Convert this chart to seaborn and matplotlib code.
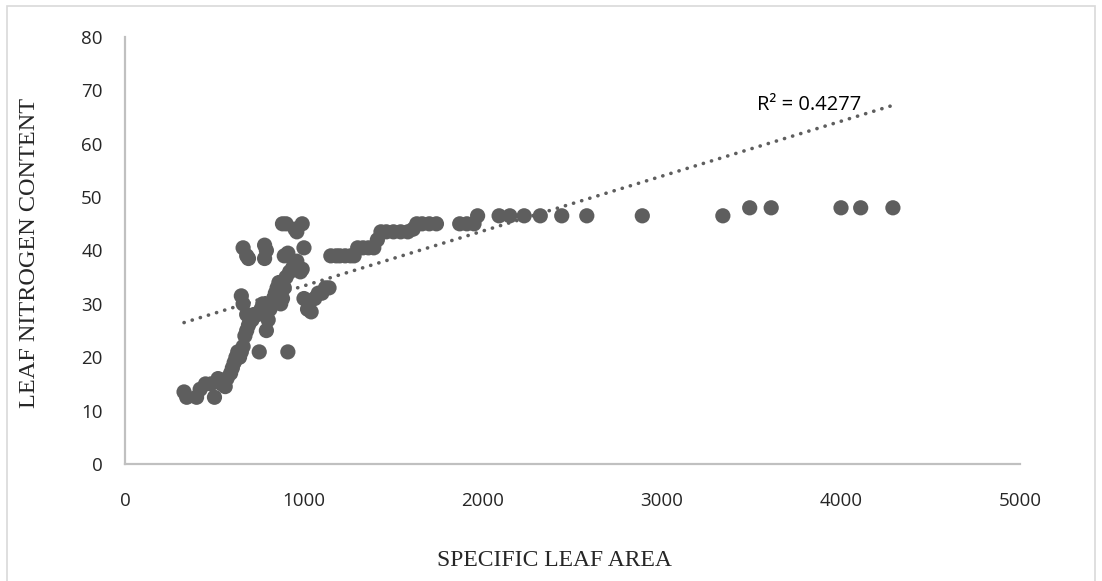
import matplotlib
matplotlib.use("Agg")
import matplotlib.pyplot as plt
import numpy as np
import pandas as pd
import seaborn as sns
from matplotlib.patches import Rectangle

# specific leaf area (x) and leaf nitrogen content (y)
sla = [330, 345, 400, 420, 450, 480, 500, 520, 540, 560, 570, 590, 600, 610, 620,
       630, 640, 650, 660, 670, 680, 690, 700, 710, 720, 740, 750, 760, 770, 780,
       790, 800, 810, 820, 830, 840, 850, 860, 870, 880, 890, 900, 910, 920, 940,
       960, 980, 1000, 1020, 1040, 1060, 1080, 1100, 1120, 1140,
       660, 680, 690, 780, 790, 780, 880, 900, 890, 910, 950, 990, 1000, 960, 950,
       990, 650, 660, 680,
       1150, 1180, 1200, 1230, 1260, 1280, 1300, 1330, 1360, 1390, 1410, 1430,
       1460, 1500, 1540, 1580, 1610, 1630, 1660, 1700, 1740, 1870, 1910, 1950,
       1970, 2090, 2150, 2230, 2320, 2440, 2580, 2890, 3340, 3490, 3610, 4000,
       4110, 4290]
lnc = [13.5, 12.5, 12.5, 14, 15, 15, 12.5, 16, 15, 14.5, 16, 17, 18, 19, 20,
       21, 20, 21, 22, 24, 25, 26, 27, 27, 28, 28, 21, 29, 30, 28,
       25, 27, 29, 30, 31, 32, 33, 34, 30, 31, 33, 35, 21, 36, 37,
       38, 36, 31, 29, 28.5, 31, 32, 32, 33, 33,
       40.5, 39, 38.5, 41, 40, 38.5, 45, 45, 39, 39.5, 44, 45, 40.5, 43.5, 36.5,
       36.5, 31.5, 30, 28,
       39, 39, 39, 39, 39, 39, 40.5, 40.5, 40.5, 40.5, 42, 43.5,
       43.5, 43.5, 43.5, 43.5, 44, 45, 45, 45, 45, 45, 45, 45,
       46.5, 46.5, 46.5, 46.5, 46.5, 46.5, 46.5, 46.5, 46.5, 48, 48, 48,
       48, 48]

# linear trend line as shown on the chart
trend_slope = 0.01028
trend_intercept = 23.1
r2_label = "R² = 0.4277"

df = pd.DataFrame({"sla": sla, "lnc": lnc})

sns.set_style("white")
fig = plt.figure(figsize=(11.02, 5.81), dpi=100)
ax = fig.add_axes([0.1134, 0.2014, 0.8122, 0.7349])

sns.scatterplot(data=df, x="sla", y="lnc", ax=ax, s=120, color="#5e5e5e",
                edgecolor="none", alpha=1, zorder=3)

xs = np.array([min(sla), max(sla)])
ax.plot(xs, trend_intercept + trend_slope * xs, color="#5e5e5e", lw=2.6,
        linestyle=(0, (0.05, 2.3)), dash_capstyle="round", zorder=4)
ax.text(3530, 67.3, r2_label, fontsize=14.5, family="Open Sans", color="black",
        va="center", zorder=5)

ax.set_xlim(0, 5000)
ax.set_ylim(0, 80)
ax.set_xticks(range(0, 5001, 1000))
ax.set_yticks(range(0, 81, 10))
for sp in ["top", "right"]:
    ax.spines[sp].set_visible(False)
for sp in ["left", "bottom"]:
    ax.spines[sp].set_color("#c0c0c0")
    ax.spines[sp].set_linewidth(1.6)
ax.tick_params(axis="both", length=0, labelsize=13.5)
ax.tick_params(axis="y", pad=16)
ax.tick_params(axis="x", pad=20)
for lab in ax.get_xticklabels() + ax.get_yticklabels():
    lab.set_family("Open Sans")

ax.set_xlabel("")
ax.set_ylabel("")
fig.text(0.503, 0.036, "SPECIFIC LEAF AREA", ha="center", va="center",
         family="Liberation Serif", fontsize=17)
fig.text(0.027, 0.565, "LEAF NITROGEN CONTENT", ha="center", va="center",
         rotation=90, family="Liberation Serif", fontsize=17.5)

fig.patches.append(Rectangle((0.006, -0.01), 0.988, 1.0, transform=fig.transFigure,
                             fill=False, edgecolor="#d9d9d9", lw=1.2))

fig.savefig("out.png", dpi=100)
